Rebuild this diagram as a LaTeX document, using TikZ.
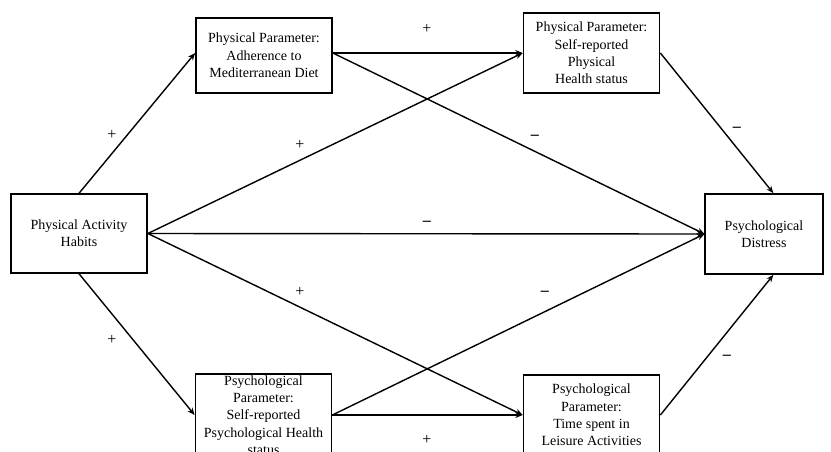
\documentclass[tikz,border=0pt]{standalone}
\usepackage{fontspec}
\setmainfont{Liberation Serif}
\usepackage{tikz}
\usetikzlibrary{arrows.meta}

\begin{document}
\begin{tikzpicture}[x=0.75pt,y=0.75pt,yscale=-1,xscale=1,
  box/.style={draw, line width=1.3pt, inner sep=0pt, align=center, minimum width=102pt, font=\fontsize{10.5}{13}\selectfont},
  sign/.style={inner sep=0.75pt, font=\fontsize{12}{14}\selectfont},
  link/.style={line width=1.05pt, -{Stealth[length=5.5pt,width=4.5pt]}}]
\useasboundingbox (0,0) rectangle (831,451);
\clip (0,0) rectangle (831,451);

% Text Node
\node [box, minimum height=59pt] (habits) at (79,233.5) {Physical Activity\\Habits};
% Text Node
\node [box, minimum height=56pt] (diet) at (264,55.5) {Physical Parameter:\\Adherence to\\Mediterranean Diet};
% Text Node
\node [box, minimum height=60pt] (phys) at (591.5,53) {Physical Parameter:\\Self-reported\\Physical\\Health status};
% Text Node
\node [box, minimum width=88pt, minimum height=60pt] (distress) at (764,234) {Psychological\\Distress};
% Text Node
\node [box, minimum height=61pt] (psych) at (263.5,415) {Psychological\\Parameter:\\Self-reported\\Psychological Health\\status};
% Text Node
\node [box, minimum height=60pt] (leisure) at (591.5,415) {Psychological\\Parameter:\\Time spent in\\Leisure Activities};

%Straight Lines
\draw [link] (habits.north) -- (diet.west |- phys.west);
\draw [link] (habits.south) -- (psych.west);
\draw [link] (habits.east) -- (phys.west);
\draw [link] (habits.east) -- (distress.west);
\draw [link] (habits.east) -- (leisure.west);
\draw [link] (diet.east |- phys.west) -- (phys.west);
\draw [link] (diet.east |- phys.west) -- (distress.west);
\draw [link] (psych.east) -- (distress.west);
\draw [link] (psych.east) -- (leisure.west);
\draw [link] (phys.east) -- ([xshift=7pt]distress.north);
\draw [link] (leisure.east) -- ([xshift=7pt]distress.south);

% Text Node
\node [sign] (s1) at (427,29) {+};
\node [sign] (s2) at (112,135) {+};
\node [sign] (s3) at (300,145) {+};
\node [sign] (s4) at (535,137) {\textbf{--}};
\node [sign] (s5) at (737,129) {\textbf{--}};
\node [sign] (s6) at (427,223) {\textbf{--}};
\node [sign] (s7) at (300,292) {+};
\node [sign] (s8) at (545,293) {\textbf{--}};
\node [sign] (s9) at (112,340) {+};
\node [sign] (s10) at (427,440) {+};
\node [sign] (s11) at (727,357) {\textbf{--}};

\end{tikzpicture}
\end{document}
